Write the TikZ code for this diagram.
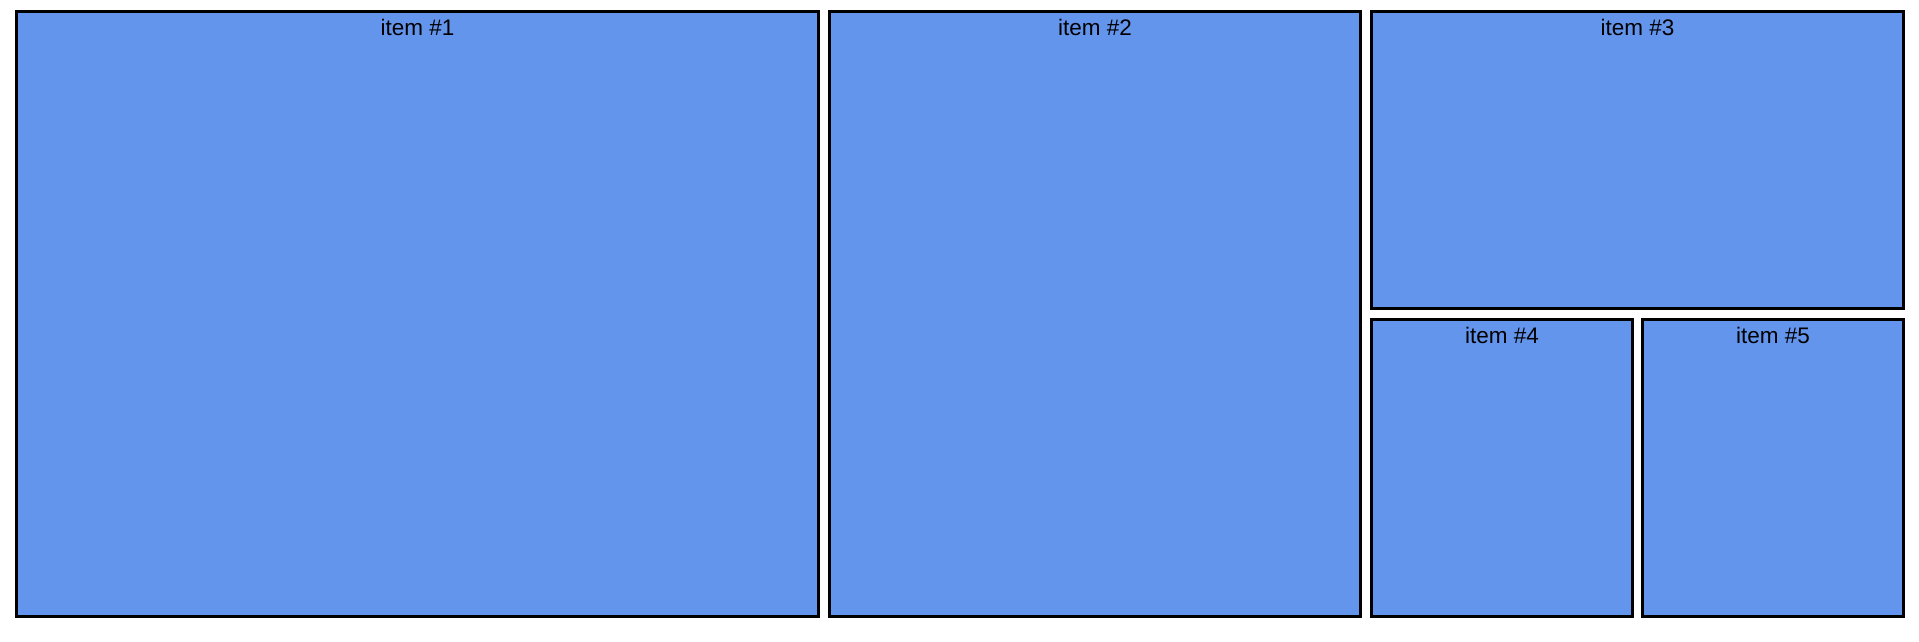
\documentclass[tikz,border=0pt]{standalone}
\usepackage{fontspec}
\setmainfont{Liberation Sans}
\definecolor{cornflower}{HTML}{6495ED}
\tikzset{
  itembox/.style={draw=black, line width=3.5pt, fill=cornflower},
  itemlabel/.style={anchor=base, inner sep=0pt, font=\fontsize{22.5}{24}\selectfont, text=black}
}
\begin{document}
\begin{tikzpicture}[x=1pt, y=-1pt]
\useasboundingbox (0,0) rectangle (1919,642);
\draw[itembox] (16.5,11.5) rectangle (818.5,616.5);
\draw[itembox] (829.5,11.5) rectangle (1360.5,616.5);
\draw[itembox] (1371.5,11.5) rectangle (1903.5,308.5);
\draw[itembox] (1371.5,319.5) rectangle (1632.5,616.5);
\draw[itembox] (1642.5,319.5) rectangle (1903.5,616.5);
\node[itemlabel] (l1) at (417.5,35.5) {item \#1};
\node[itemlabel] (l2) at (1095,35.5) {item \#2};
\node[itemlabel] (l3) at (1637.5,35.5) {item \#3};
\node[itemlabel] (l4) at (1502,343.5) {item \#4};
\node[itemlabel] (l5) at (1773,343.5) {item \#5};
\end{tikzpicture}
\end{document}
